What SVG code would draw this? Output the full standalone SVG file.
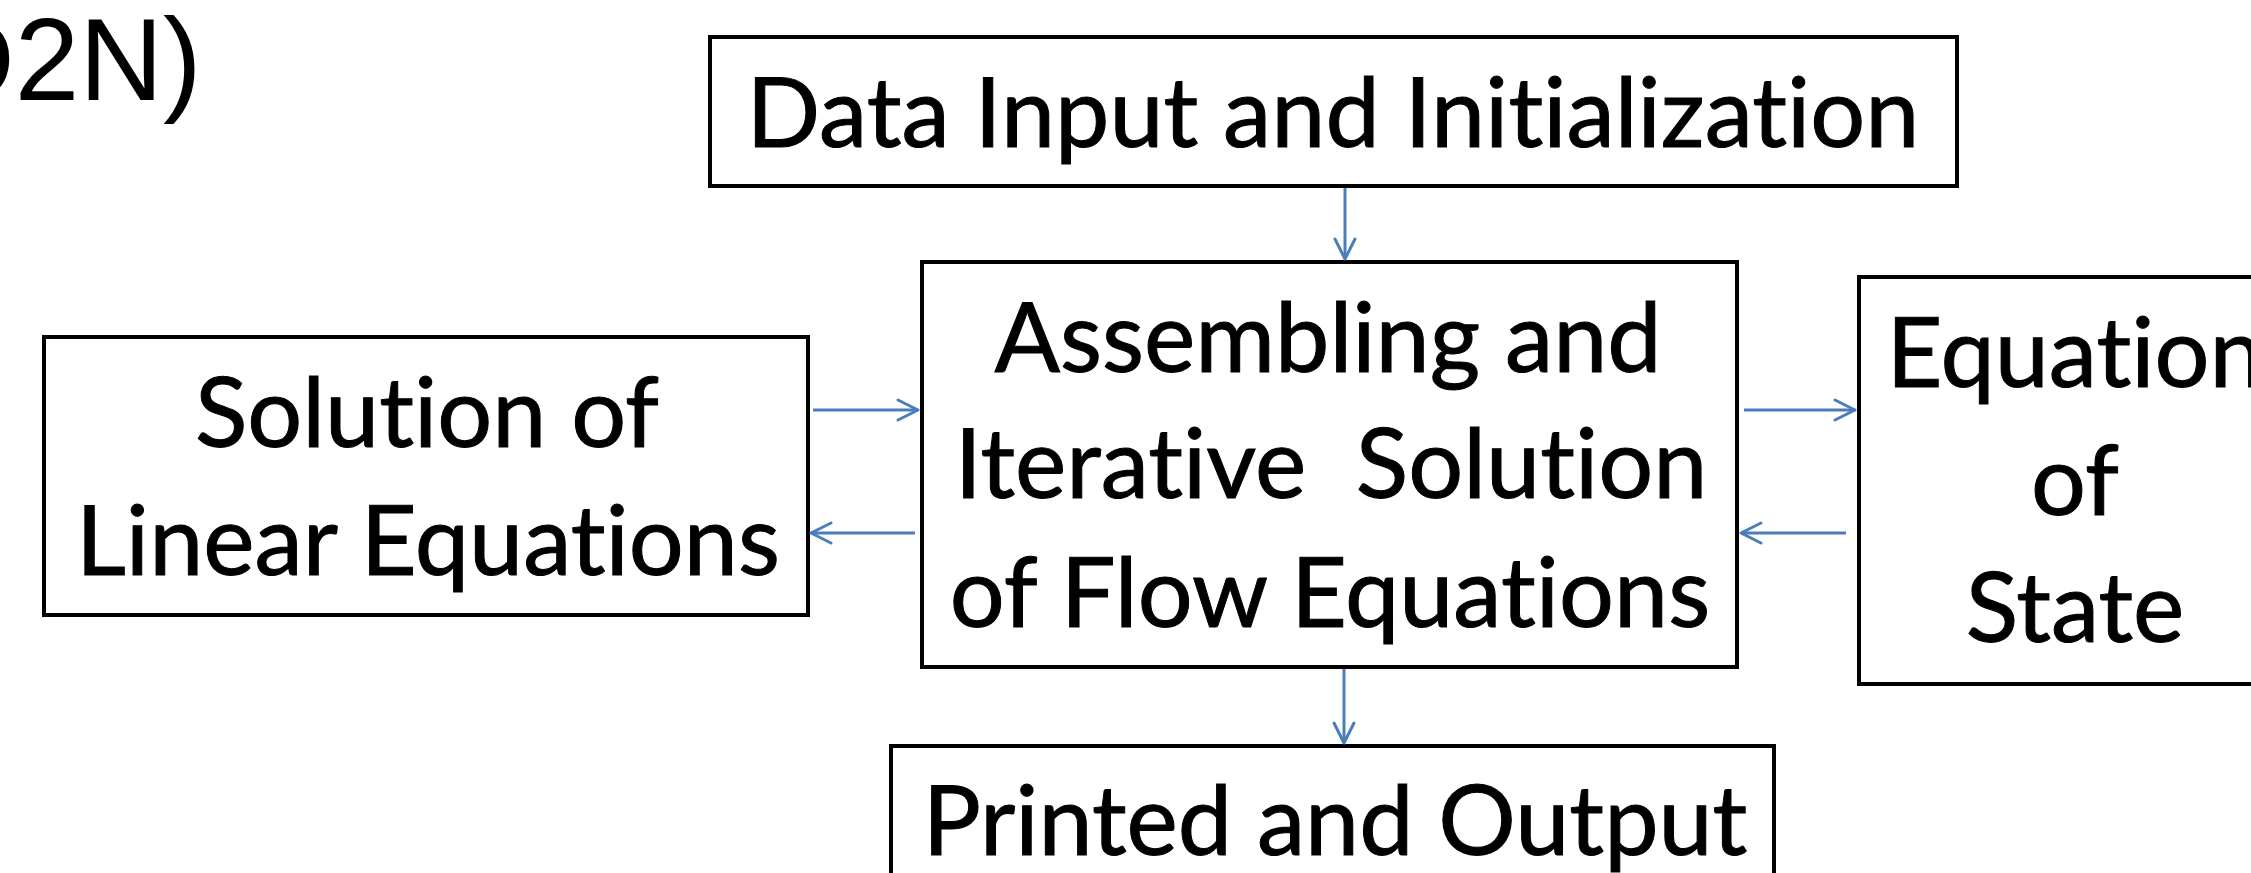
<svg xmlns="http://www.w3.org/2000/svg" width="2251" height="873" viewBox="0 0 2251 873">
<style>
.box{fill:#ffffff;stroke:#000000;stroke-width:4}
.t{font-family:Lato,"Open Sans",sans-serif;font-size:97px;fill:#000000;stroke:#000000;stroke-width:1;text-anchor:middle;white-space:pre;font-variant-ligatures:none;font-feature-settings:"liga" 0,"clig" 0}
.title{font-family:"Liberation Sans",Arial,sans-serif;font-size:116px;fill:#000000}
.c{stroke:#4a7ebb;stroke-width:3;fill:none}
</style>
<defs>
<marker id="ah" markerUnits="userSpaceOnUse" markerWidth="26" markerHeight="26" viewBox="0 0 26 26" refX="23" refY="13" orient="auto">
<path d="M3,3 L23,13 L3,23" fill="none" stroke="#4a7ebb" stroke-width="3" stroke-linecap="round" stroke-linejoin="round"/>
</marker>
</defs>
<rect width="2251" height="873" fill="#ffffff"/>
<text class="title" x="-69" y="100">D2N)</text>
<g id="node-input">
<rect class="box" x="710" y="37" width="1247" height="149"/>
<text class="t" x="1333" y="147">Data Input and Initialization</text>
</g>
<g id="node-assembling">
<rect class="box" x="922" y="262" width="815" height="405"/>
<text class="t" x="1328" y="372">Assembling and</text>
<text class="t" x="1331" y="498" xml:space="preserve">Iterative  Solution</text>
<text class="t" x="1330" y="627">of Flow Equations</text>
</g>
<g id="node-linear">
<rect class="box" x="44" y="337" width="764" height="278"/>
<text class="t" x="427" y="447">Solution of</text>
<text class="t" x="428" y="575">Linear Equations</text>
</g>
<g id="node-eos">
<rect class="box" x="1859" y="277" width="440" height="407"/>
<text class="t" x="2075" y="387">Equation</text>
<text class="t" x="2075" y="515">of</text>
<text class="t" x="2075" y="642">State</text>
</g>
<g id="node-output">
<rect class="box" x="891" y="746" width="883" height="160"/>
<text class="t" x="1335" y="855">Printed and Output</text>
</g>
<g id="connectors">
<line class="c" x1="1345" y1="188" x2="1345" y2="259" marker-end="url(#ah)"/>
<line class="c" x1="1344" y1="669" x2="1344" y2="743" marker-end="url(#ah)"/>
<line class="c" x1="813" y1="410" x2="918" y2="410" marker-end="url(#ah)"/>
<line class="c" x1="915" y1="533" x2="811" y2="533" marker-end="url(#ah)"/>
<line class="c" x1="1744" y1="410" x2="1855" y2="410" marker-end="url(#ah)"/>
<line class="c" x1="1846" y1="533" x2="1741" y2="533" marker-end="url(#ah)"/>
</g>
</svg>
